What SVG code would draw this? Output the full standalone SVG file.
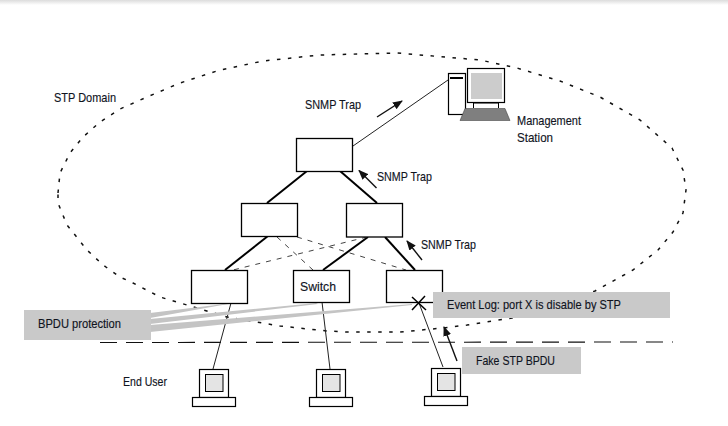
<svg xmlns="http://www.w3.org/2000/svg" width="728" height="426" viewBox="0 0 728 426">
  <style>
    text { font-family: "Liberation Sans Narrow", "Liberation Sans", Arial, sans-serif; font-size: 13px; fill: #10141e; stroke: #10141e; stroke-width: 0.15; }
    .box { fill: #fff; stroke: #000; stroke-width: 1.3; }
    .trunk { stroke: #000; stroke-width: 2; fill: none; }
    .standby { stroke: #444; stroke-width: 1; stroke-dasharray: 5 6; fill: none; }
    .thin { stroke: #222; stroke-width: 1; fill: none; }
    .pointer { stroke: #111; stroke-width: 1.4; fill: none; marker-end: url(#head); }
    .band { fill: #c9c9c9; }
    .sheath { fill: #c4c4c4; }
    .frame { fill: #fff; stroke: #000; stroke-width: 1.2; }
    .screen { fill: #e4e4e4; stroke: #000; stroke-width: 1; }
  </style>
  <defs>
    <linearGradient id="edge-fade" x1="0" y1="0" x2="0" y2="1">
      <stop offset="0" stop-color="#dcdcdc"/>
      <stop offset="1" stop-color="#ffffff"/>
    </linearGradient>
    <marker id="head" markerUnits="userSpaceOnUse" markerWidth="10" markerHeight="8" refX="9" refY="4" orient="auto">
      <path d="M0 0 L10 4 L0 8 Z" fill="#111"/>
    </marker>
    <g id="terminal">
      <rect class="frame" x="7" y="0" width="29" height="28"/>
      <rect class="screen" x="13" y="5" width="17.500" height="17"/>
      <rect class="frame" x="0" y="28" width="43" height="9"/>
    </g>
  </defs>

  <rect width="728" height="5" fill="url(#edge-fade)"/>

  <!-- STP domain boundary -->
  <polygon id="stp-domain" fill="none" stroke="#111" stroke-width="1.500" stroke-dasharray="3.500 7.500" stroke-linejoin="round"
    points="58,193 60,173 70,153 83,137 100,122 120,109 147,97 180,83 220,70 263,61 320,55 397,53 480,60 517,68 560,81 600,97 640,120 672,148 683,170 686,190 683,213 673,232 658,250 633,270 595,291 512,318 467,325 443,328 400,332 347,332 327,331 280,326 227,317 187,305 160,297 133,283 120,277 103,265 87,250 67,225 58,203"/>

  <!-- access edge -->
  <line x1="100" y1="342.500" x2="673" y2="342" stroke="#111" stroke-width="1.100" stroke-dasharray="17 9"/>

  <g id="connectors">
    <line class="thin" x1="353" y1="146" x2="448" y2="80"/>
    <line class="trunk" x1="307" y1="171" x2="267" y2="203"/>
    <line class="trunk" x1="340" y1="171" x2="377" y2="203"/>
    <line class="trunk" x1="268" y1="236" x2="225" y2="270"/>
    <line class="trunk" x1="368" y1="237" x2="323" y2="270"/>
    <line class="trunk" x1="385" y1="237" x2="415" y2="270"/>
    <line class="standby" x1="277" y1="237" x2="313" y2="270"/>
    <line class="standby" x1="297" y1="237" x2="406" y2="270"/>
    <line class="standby" x1="367" y1="237" x2="233" y2="270"/>
    <line class="thin" x1="231" y1="303" x2="213" y2="369"/>
    <line class="thin" x1="322" y1="302" x2="330" y2="369"/>
    <line class="thin" x1="419" y1="303" x2="443" y2="367"/>
  </g>

  <!-- protected port callouts -->
  <g id="bpdu-sheaths">
    <polygon class="sheath" points="150,313 150,318 228,304 224,304"/>
    <polygon class="sheath" points="150,319 150,324 318,304 316,303"/>
    <polygon class="sheath" points="150,325 150,332 412,305 412,304"/>
  </g>

  <g id="pointers">
    <line class="pointer" x1="377" y1="117" x2="402" y2="101"/>
    <line class="pointer" x1="376.500" y1="188" x2="359" y2="170.500"/>
    <line class="pointer" x1="422" y1="260" x2="407" y2="241"/>
    <line class="pointer" x1="457" y1="361" x2="444" y2="327"/>
  </g>

  <g id="core-switch"><rect class="box" x="296.500" y="138.500" width="56" height="33"/></g>
  <g id="dist-left"><rect class="box" x="241.500" y="203.500" width="56" height="33"/></g>
  <g id="dist-right"><rect class="box" x="346.500" y="203.500" width="56" height="33.500"/></g>
  <g id="edge-left"><rect class="box" x="191.500" y="270.500" width="56" height="33"/></g>
  <g id="edge-middle">
    <rect class="box" x="293.500" y="270.500" width="56" height="32"/>
    <text x="300" y="291" textLength="36" lengthAdjust="spacingAndGlyphs">Switch</text>
  </g>
  <g id="edge-right"><rect class="box" x="386.500" y="270.500" width="56" height="32"/></g>

  <g id="port-disabled">
    <path d="M412 297 L426 310 M425 296 L412 310" stroke="#000" stroke-width="1.500" fill="none"/>
  </g>

  <g id="management-station">
    <rect class="frame" x="448.500" y="73.500" width="17" height="41"/>
    <rect x="450" y="77" width="13" height="2" fill="#000"/>
    <path d="M473.500 103 V108 M498.500 103 V108 M473 103 H499" stroke="#000" fill="none"/>
    <rect class="frame" x="467.500" y="68.500" width="37" height="34"/>
    <rect x="471" y="73" width="31" height="26" fill="#cccccc"/>
    <polygon points="460,120.500 510,120.500 505,108.500 465,108.500" fill="#7f7f7f" stroke="#333" stroke-width="0.500"/>
    <text x="517" y="125" textLength="64" lengthAdjust="spacingAndGlyphs">Management</text>
    <text x="517" y="142" textLength="36" lengthAdjust="spacingAndGlyphs">Station</text>
  </g>

  <g id="end-user-1"><use href="#terminal" x="192.500" y="369.500"/></g>
  <g id="end-user-2"><use href="#terminal" x="309.500" y="369.500"/></g>
  <g id="end-user-3"><use href="#terminal" x="424.500" y="368.500"/></g>

  <g id="bpdu-protection">
    <rect class="band" x="24" y="310" width="127" height="30"/>
    <text x="38" y="328" textLength="83" lengthAdjust="spacingAndGlyphs">BPDU protection</text>
  </g>
  <g id="event-log">
    <rect class="band" x="433" y="292" width="237" height="26"/>
    <text x="447" y="309" textLength="174" lengthAdjust="spacingAndGlyphs">Event Log: port X is disable by STP</text>
  </g>
  <g id="fake-bpdu">
    <rect class="band" x="462" y="347" width="119" height="27"/>
    <text x="476" y="365" textLength="79" lengthAdjust="spacingAndGlyphs">Fake STP BPDU</text>
  </g>

  <g id="labels">
    <text x="54" y="102" textLength="62" lengthAdjust="spacingAndGlyphs">STP Domain</text>
    <text x="305" y="109" textLength="56" lengthAdjust="spacingAndGlyphs">SNMP Trap</text>
    <text x="377" y="181" textLength="55" lengthAdjust="spacingAndGlyphs">SNMP Trap</text>
    <text x="421" y="249" textLength="55" lengthAdjust="spacingAndGlyphs">SNMP Trap</text>
    <text x="123" y="386" textLength="44" lengthAdjust="spacingAndGlyphs">End User</text>
  </g>
</svg>
